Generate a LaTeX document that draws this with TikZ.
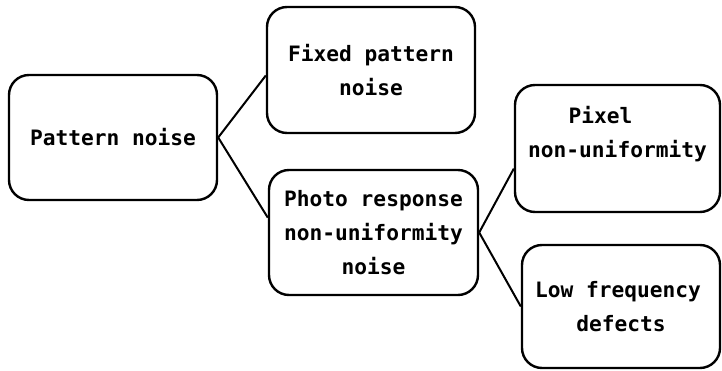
\documentclass[tikz,border=0pt]{standalone}
\usepackage{fontspec}
\setmonofont{DejaVu Sans Mono}
\begin{document}
\begin{tikzpicture}[x=1pt,y=-1pt,
  box/.style={draw, line width=2.4pt, rounded corners=20pt, align=center,
    inner sep=0pt, font=\ttfamily\bfseries\fontsize{21.2}{34}\selectfont},
  link/.style={line width=2pt}]
\useasboundingbox (0,0) rectangle (722,371);
\node[box, minimum width=208, minimum height=125] (A) at (113,137.5) {Pattern noise};
\node[box, minimum width=208, minimum height=126] (B) at (371,70) {Fixed pattern\\noise};
\node[box, minimum width=209, minimum height=125] (C) at (373.5,232.5) {Photo response\\non-uniformity\\noise};
\node[box, minimum width=205, minimum height=127] (D) at (617.5,148.5) {Pixel\hspace*{34pt}\\non-uniformity\\\mbox{}};
\node[box, minimum width=198, minimum height=123] (E) at (621,306.5) {Low frequency\hspace*{6pt}\\defects};
\draw[link] (A.east) -- (B.183);
\draw[link] (A.east) -- (C.172);
\draw[link] (C.east) -- (D.191);
\draw[link] (C.east) -- (E.west);
\end{tikzpicture}
\end{document}
